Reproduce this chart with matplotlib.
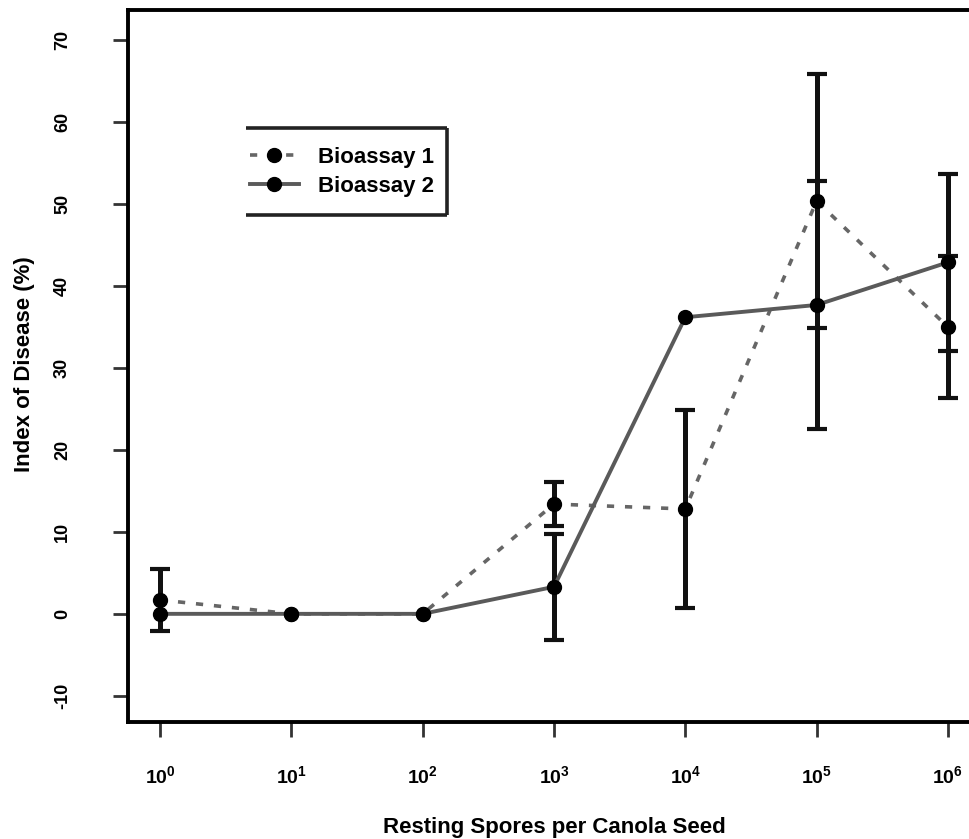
import numpy as np
import matplotlib
matplotlib.use("Agg")
import matplotlib.pyplot as plt
from matplotlib.lines import Line2D

plt.rcParams["font.family"] = ["Liberation Sans", "DejaVu Sans"]
plt.rcParams["font.weight"] = "bold"
plt.rcParams["axes.labelweight"] = "bold"
plt.rcParams["mathtext.fontset"] = "custom"
plt.rcParams["mathtext.rm"] = "Liberation Sans:bold"
plt.rcParams["mathtext.bf"] = "Liberation Sans:bold"

# spores per seed (x) and disease index for the two bioassays
spores = [1, 10, 100, 1e3, 1e4, 1e5, 1e6]
bioassay1 = [1.7, 0.0, 0.0, 13.4, 12.8, 50.4, 35.0]
bioassay1_err = [3.8, 0.0, 0.0, 2.7, 12.1, 15.5, 8.7]
bioassay2 = [0.0, 0.0, 0.0, 3.3, 36.2, 37.7, 42.9]
bioassay2_err = [0.0, 0.0, 0.0, 6.5, 0.0, 15.1, 10.8]

x_ticklabels = [r"$\mathbf{10^{%d}}$" % k for k in range(7)]
y_ticks = [-10, 0, 10, 20, 30, 40, 50, 60, 70]

fig = plt.figure(figsize=(9.69, 8.39), dpi=100)
ax = fig.add_axes([128 / 969, 1 - 722 / 839, 852 / 969, 712 / 839])

# error bars only where there is an error
def draw_err(y, err, color):
    y = np.array(y)
    err = np.array(err)
    keep = err > 0
    ax.errorbar(np.array(spores)[keep], y[keep], yerr=err[keep], fmt="none",
                ecolor=color, elinewidth=3.6, capsize=7, capthick=3, zorder=2)

ax.plot(spores, bioassay1, color="#666666", lw=2.6, ls=(0, (2, 3)), zorder=3)
ax.plot(spores, bioassay2, color="#5a5a5a", lw=2.8, ls="-", zorder=3)
draw_err(bioassay1, bioassay1_err, "#111111")
draw_err(bioassay2, bioassay2_err, "#111111")
ax.plot(spores, bioassay1, ls="none", marker="o", ms=10, color="black", zorder=4)
ax.plot(spores, bioassay2, ls="none", marker="o", ms=10, color="black", zorder=4)

ax.set_xscale("log")
ax.set_xlim(10 ** -0.244, 10 ** 6.244)
ax.set_ylim(-13.2, 73.7)
ax.set_xticks(spores)
ax.set_xticklabels(x_ticklabels, fontsize=14)
ax.minorticks_off()
ax.set_yticks(y_ticks)
ax.set_yticklabels([str(v) for v in y_ticks], rotation=90, va="center", fontsize=13)

for s in ax.spines.values():
    s.set_linewidth(2.8)
ax.tick_params(axis="both", length=11, width=2, color="#333333")
ax.tick_params(axis="x", pad=20)
ax.tick_params(axis="y", pad=30)

ax.set_xlabel("Resting Spores per Canola Seed", fontsize=16, va="center")
ax.xaxis.set_label_coords(0.5, (722 - 828) / 712)
ax.set_ylabel("Index of Disease (%)", fontsize=16, va="center")
ax.yaxis.set_label_coords((25 - 128) / 852, 0.5 + (361 - 359) / 712)

# legend box: top, right and bottom edges only
bx0, bx1 = (246 - 128) / 852, (447 - 128) / 852
by0, by1 = (722 - 215) / 712, (722 - 128) / 712
for xs, ys in [((bx0, bx1), (by1, by1)), ((bx1, bx1), (by1, by0)), ((bx0, bx1), (by0, by0))]:
    ax.add_line(Line2D(xs, ys, transform=ax.transAxes, color="#222222", lw=2.6,
                       solid_capstyle="butt"))

handles = [
    Line2D([], [], color="#666666", lw=2.6, ls=(0, (2, 3)), marker="o", ms=10,
           markerfacecolor="black", markeredgecolor="black"),
    Line2D([], [], color="#5a5a5a", lw=2.8, marker="o", ms=10,
           markerfacecolor="black", markeredgecolor="black"),
]
ax.legend(handles, ["Bioassay 1", "Bioassay 2"], loc="upper left",
          bbox_to_anchor=((250 - 128) / 852, (722 - 147) / 712), frameon=False,
          borderpad=0, borderaxespad=0, fontsize=16, handlelength=2.2,
          handletextpad=0.85, labelspacing=0.35)

fig.savefig("out.png", dpi=100)
